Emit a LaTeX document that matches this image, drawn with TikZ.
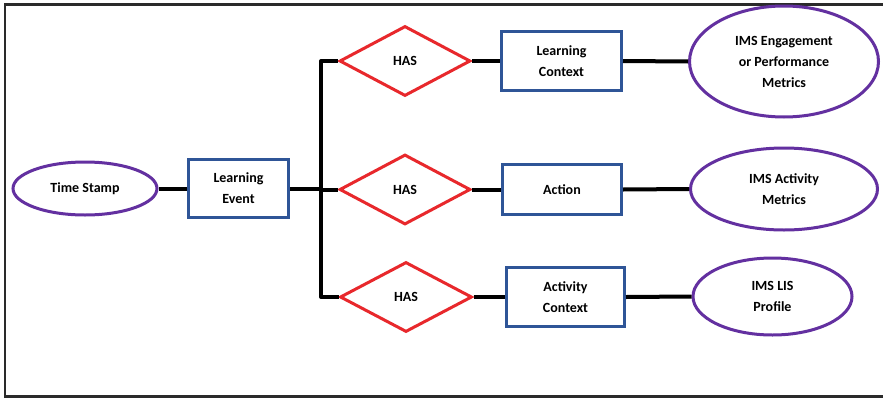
\documentclass[tikz,border=0pt]{standalone}
\usepackage{fontspec}
\setmainfont{Carlito}
\usetikzlibrary{shapes.geometric}
\definecolor{relred}{HTML}{E8282C}
\definecolor{entblue}{HTML}{2F5597}
\definecolor{attrpurple}{HTML}{6330A0}
\definecolor{framegray}{HTML}{2A2A2A}
\tikzset{
  lbl/.style={font=\bfseries\fontsize{14}{21}\selectfont, align=center, text=black, inner sep=0pt},
  entity/.style={lbl, draw=entblue, line width=3pt, rectangle},
  relation/.style={lbl, draw=relred, line width=3pt, diamond},
  attribute/.style={lbl, draw=attrpurple, line width=3pt, ellipse},
  link/.style={draw=black, line width=4pt, line join=round}
}
\begin{document}
\begin{tikzpicture}[x=1pt, y=-1pt]
  \useasboundingbox (0,0) rectangle (883,399);
  \fill[white] (0,0) rectangle (883,399);
  % outer frame
  \draw[framegray, line width=2.6pt] (883,4.5) -- (5,4.5) -- (5,396.5) -- (883,396.5);

  % left part
  \node[attribute, minimum width=144pt, minimum height=53pt] (ts) at (85,188.5) {Time Stamp};
  \node[entity, minimum width=100pt, minimum height=58pt] (le) at (238.5,188.5) {Learning\\Event};

  % relations
  \node[relation, minimum width=131pt, minimum height=70pt] (d1) at (405,61) {HAS};
  \node[relation, minimum width=131pt, minimum height=70pt] (d2) at (405,189.5) {HAS};
  \node[relation, minimum width=132pt, minimum height=70pt] (d3) at (406,297) {HAS};

  % entities
  \node[entity, minimum width=120pt, minimum height=59pt] (lc) at (561.5,61) {Learning\\Context};
  \node[entity, minimum width=119pt, minimum height=50pt] (ac) at (562,189.5) {Action};
  \node[entity, minimum width=118pt, minimum height=59pt] (acx) at (565.5,297) {Activity\\Context};

  % attributes
  \node[attribute, minimum width=189pt, minimum height=111pt] (e1) at (784,61.5) {IMS Engagement\\or Performance\\Metrics};
  \node[attribute, minimum width=187pt, minimum height=82pt] (e2) at (784,189) {IMS Activity\\Metrics};
  \node[attribute, minimum width=159pt, minimum height=77pt] (e3) at (772.5,296.5) {IMS LIS\\Profile};

  % trunk junctions
  \coordinate (j1) at (321,61);
  \coordinate (j2) at (321,188.5);
  \coordinate (j3) at (321,297);

  % connectors
  \draw[link] (ts) -- (le);
  \draw[link] (le.east) -- (j2);
  \draw[link] (j2 |- d2.west) -- (d2.west);
  \draw[link] (d1.west) -- (j1) -- (j3) -- (d3.west);
  \draw[link] (d1) -- (lc);
  \draw[link] (d2) -- (ac);
  \draw[link] (d3) -- (acx);
  \draw[link] (lc.east) -- (e1.west);
  \draw[link] (ac.east) -- (e2.west);
  \draw[link] (acx.east) -- (e3.west);
\end{tikzpicture}
\end{document}
